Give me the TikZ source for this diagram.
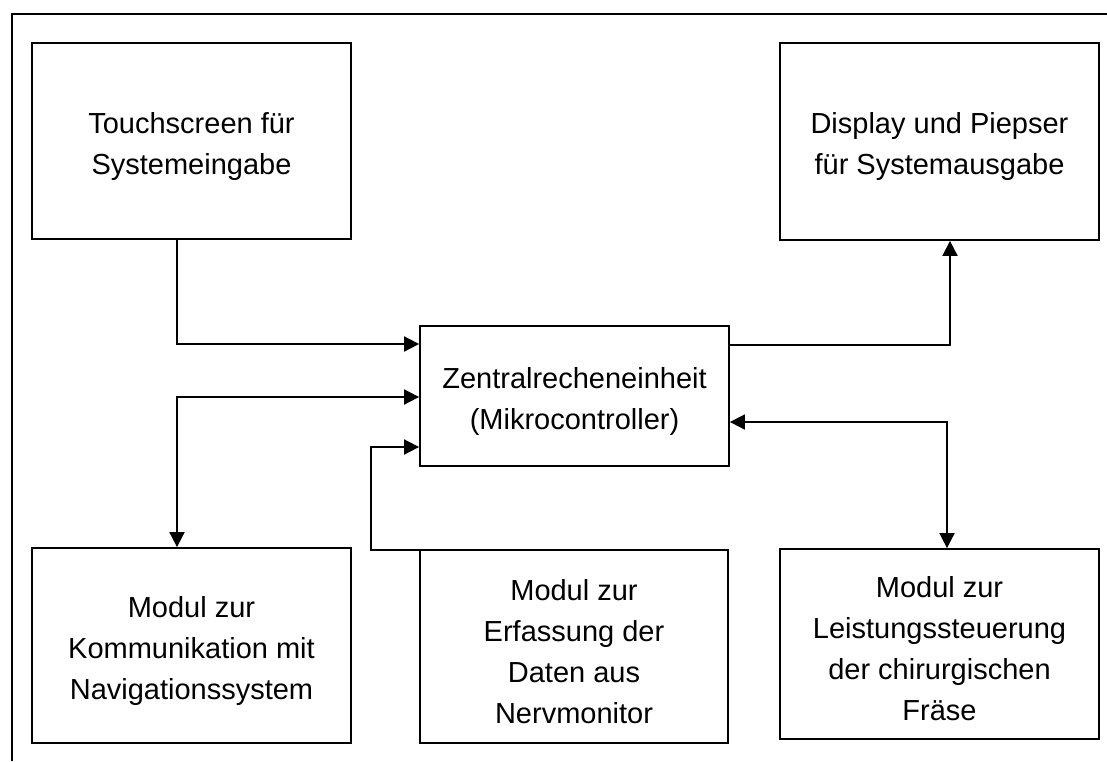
\documentclass[tikz,border=0pt]{standalone}
\usepackage{fontspec}
\setmainfont{Liberation Sans}
\usetikzlibrary{arrows.meta}
\tikzset{
  blk/.style={draw, line width=1.8pt, rectangle, inner sep=0pt},
  txt/.style={inner sep=0pt, align=center, font=\fontsize{29}{41}\selectfont, yshift=-5pt},
  conn/.style={line width=1.8pt},
  tip/.tip={Triangle[length=15pt,width=15pt]},
  frame/.style={line width=1.8pt}
}
\begin{document}
\begin{tikzpicture}[x=1pt,y=-1pt]
\useasboundingbox (0,0) rectangle (1107,761);
\draw[frame] (12,761) -- (12,14) -- (1107,14);
\node[blk, minimum width=319pt, minimum height=196pt] (ts) at (191.5,141) {};
\node[txt] (tst) at (ts.center) {Touchscreen für\\Systemeingabe};
\node[blk, minimum width=319pt, minimum height=197pt] (disp) at (939.5,141.5) {};
\node[txt] (dispt) at (disp.center) {Display und Piepser\\für Systemausgabe};
\node[blk, minimum width=309pt, minimum height=140pt] (cpu) at (574.5,396) {};
\node[txt] (cput) at (cpu.center) {Zentralrecheneinheit\\(Mikrocontroller)};
\node[blk, minimum width=319pt, minimum height=195pt] (nav) at (191.5,645.5) {};
\node[txt] (navt) at (nav.center) {Modul zur\\Kommunikation mit\\Navigationssystem};
\node[blk, minimum width=308pt, minimum height=193pt] (nerv) at (574,646.5) {};
\node[txt] (nervt) at (nerv.center) {Modul zur\\Erfassung der\\Daten aus\\Nervmonitor};
\node[blk, minimum width=319pt, minimum height=190pt] (fr) at (939.5,644) {};
\node[txt] (frt) at (fr.center) {Modul zur\\Leistungssteuerung\\der chirurgischen\\Fräse};
\coordinate (xa) at (177,0);
\coordinate (ya) at (0,344);
\coordinate (yb) at (0,397);
\coordinate (nstart) at (568,550);
\coordinate (nbend) at (371,550);
\coordinate (yc) at (0,447);
\coordinate (xd) at (950,0);
\coordinate (yd) at (0,345);
\coordinate (xe) at (947,0);
\coordinate (ye) at (0,422);
\draw[conn,-tip] (ts.south -| xa) |- (cpu.west |- ya);
\draw[conn,tip-tip] (nav.north -| xa) |- (cpu.west |- yb);
\draw[conn,-tip] (nstart) -- (nbend) |- (cpu.west |- yc);
\draw[conn,-tip] (cpu.east |- yd) -| (disp.south -| xd);
\draw[conn,tip-tip] (cpu.east |- ye) -| (fr.north -| xe);
\end{tikzpicture}
\end{document}
